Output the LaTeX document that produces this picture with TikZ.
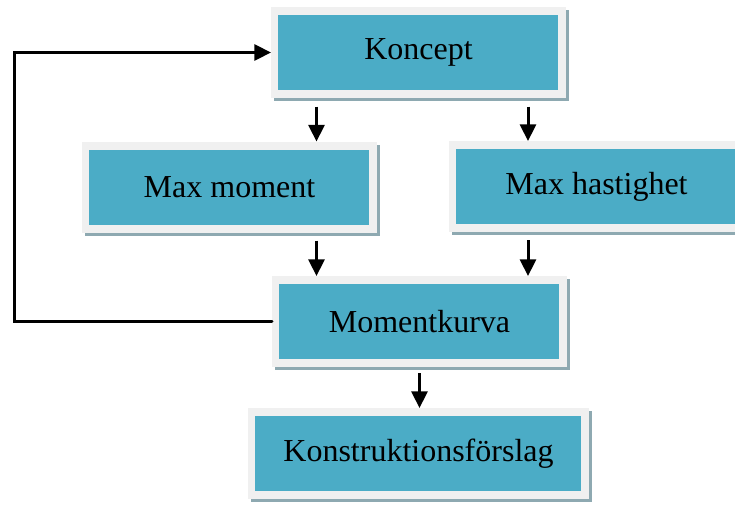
\documentclass[tikz,border=0pt]{standalone}
\usepackage{fontspec}
\setmainfont{Liberation Serif}
\usetikzlibrary{arrows.meta, positioning, shadows, calc}
\definecolor{aqua}{HTML}{4BACC6}
\definecolor{frame}{HTML}{F0F0F0}
\definecolor{shade}{HTML}{8EA9B1}

\begin{document}
\begin{tikzpicture}[
      x=0.75pt, y=-0.75pt,
      box/.style={fill=frame, inner sep=0pt, outer sep=0pt,
        minimum width=221.25pt, minimum height=68.25pt,
        font=\fontsize{24}{28}\selectfont,
        drop shadow={shadow xshift=2.25pt, shadow yshift=-2.25pt, fill=shade, opacity=1},
        path picture={\fill[aqua] ([shift={(5.5pt,6pt)}]path picture bounding box.south west)
          rectangle ([shift={(-6pt,-6pt)}]path picture bounding box.north east);}},
      arr/.style={-{Triangle[width=12pt,length=12.5pt]}, line width=2.25pt}
    ]
    \useasboundingbox (0,0) rectangle (735,504);
    \node[box] (koncept) at (418.5,52.5) {Koncept};
    \node[box] (maxmom) at (229.5,187) {Max moment};
    \node[box] (maxhast) at (596.5,186.5) {Max hastighet};
    \node[box] (kurva) at (419.5,321.5) {Momentkurva};
    \node[box, minimum width=255.75pt] (forslag) at (418.5,453.5) {Konstruktionsförslag};
    % columns and return path
    \coordinate (lcol) at (316.5,0);
    \coordinate (rcol) at (528,0);
    \coordinate (turn) at (14,0);
    \draw[arr, shorten <=6.5pt] (koncept.south -| lcol) -- (maxmom.north -| lcol);
    \draw[arr, shorten <=6.5pt] (koncept.south -| rcol) -- (maxhast.north -| rcol);
    \draw[arr, shorten <=6pt] (maxmom.south -| lcol) -- (kurva.north -| lcol);
    \draw[arr, shorten <=6pt] (maxhast.south -| rcol) -- (kurva.north -| rcol);
    \draw[arr, shorten <=4.5pt] (kurva.south) -- (kurva.south |- forslag.north);
    \draw[arr, line cap=round] (kurva.west) -- (kurva.west -| turn) |- (koncept.west);
  \end{tikzpicture}
\end{document}
